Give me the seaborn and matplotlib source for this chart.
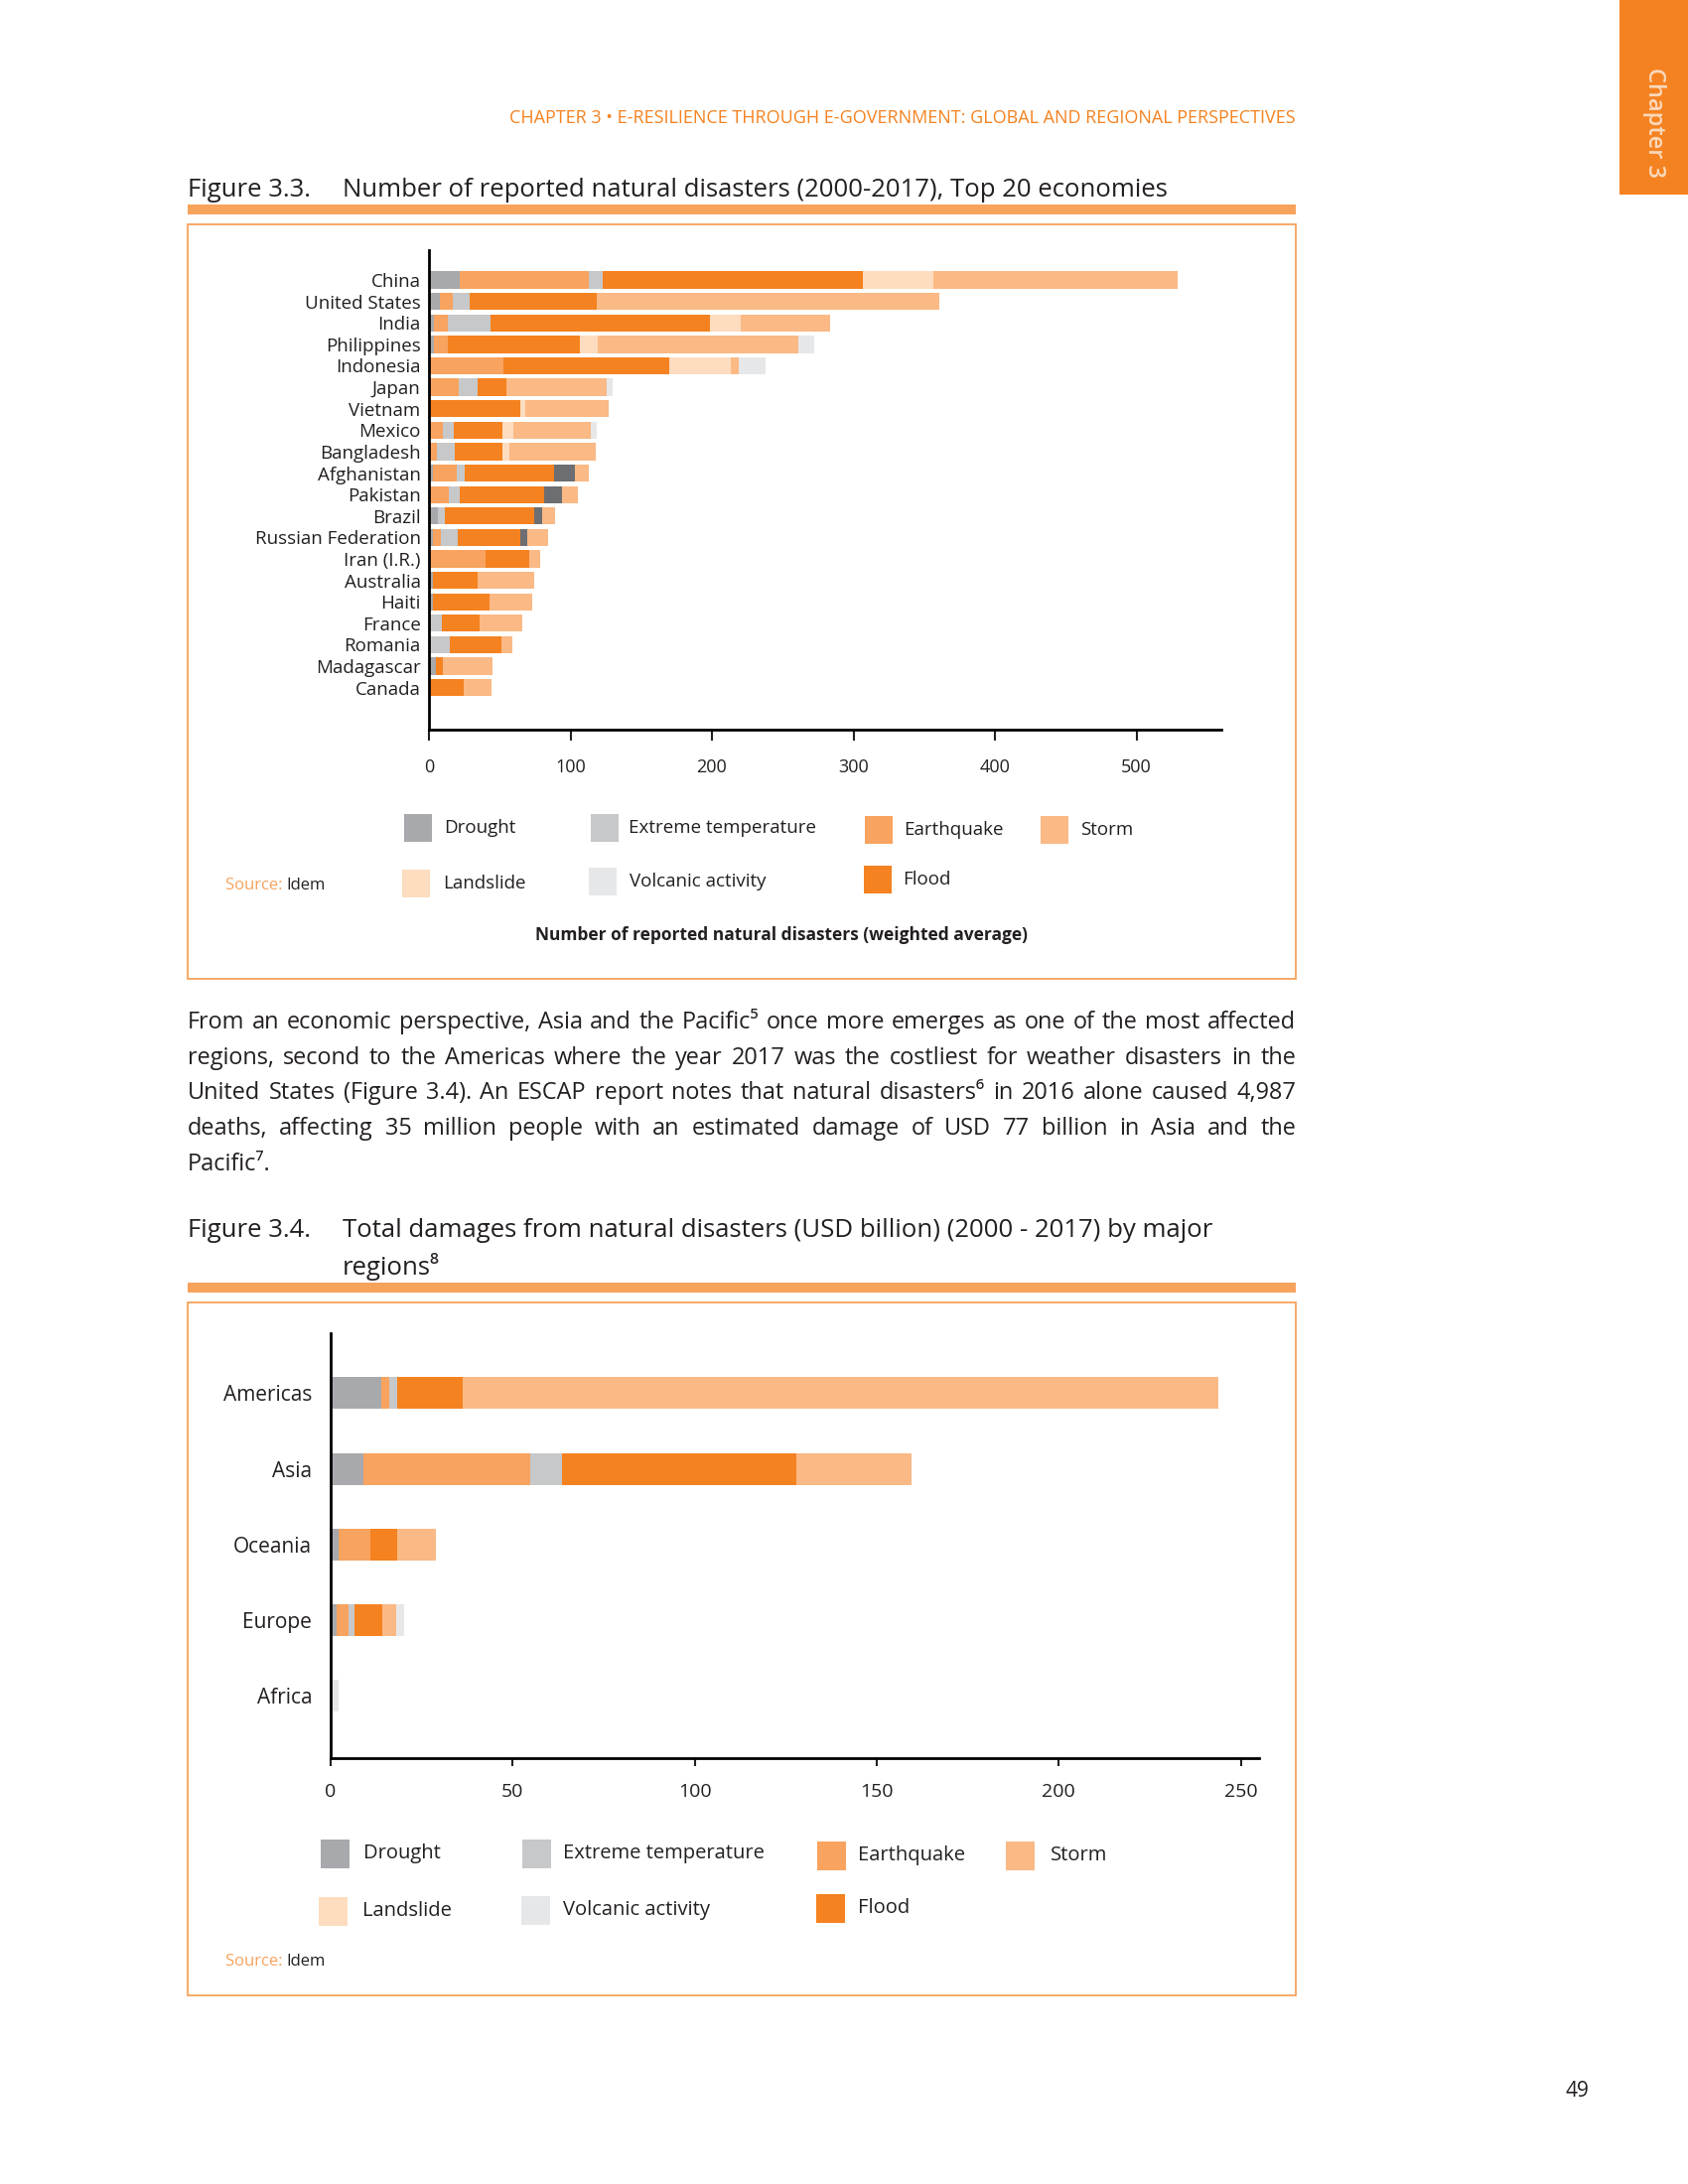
# -*- coding: utf-8 -*-
import matplotlib
matplotlib.use('Agg')
import matplotlib.pyplot as plt
import seaborn as sns
import pandas as pd
from matplotlib.patches import Rectangle

# ===========================================
# DATA
# ===========================================
SERIES = ['Drought', 'Earthquake', 'Extreme temperature', 'Flood',
          'Landslide', 'Other', 'Storm', 'Volcanic activity']

COUNTRIES = ['China', 'United States', 'India', 'Philippines', 'Indonesia',
             'Japan', 'Vietnam', 'Mexico', 'Bangladesh', 'Afghanistan',
             'Pakistan', 'Brazil', 'Russian Federation', 'Iran (I.R.)',
             'Australia', 'Haiti', 'France', 'Romania', 'Madagascar', 'Canada']
DROUGHT = [21.9, 7.9, 3.5, 3.5, 0, 0, 0, 0, 0, 2.6,
           0, 6.6, 2.6, 0, 2.5, 2.5, 0, 0, 4.8, 0]
EARTHQUAKE = [91.2, 8.8, 9.6, 9.6, 52.6, 21.0, 0, 10.1, 5.3, 16.7,
              14.0, 0, 6.1, 39.9, 0, 0, 0, 0, 0, 0]
EXTREME_TEMP = [9.6, 12.3, 30.7, 0, 0, 13.6, 0, 7.5, 12.7, 5.7,
                7.9, 4.4, 11.8, 0, 0, 0, 9.2, 14.9, 0, 0]
FLOOD = [184.2, 89.5, 154.8, 93.8, 117.5, 20.2, 64.5, 34.6, 33.8, 63.1,
         59.6, 63.1, 44.3, 30.7, 32.2, 40.5, 26.7, 36.0, 5.3, 24.6]
LANDSLIDE = [49.6, 0, 21.5, 12.7, 43.0, 0, 3.9, 7.5, 4.8, 0,
             0, 0, 0, 0, 0, 0, 0, 0, 0, 0]
OTHER = [0, 0, 0, 0, 0, 0, 0, 0, 0, 15.3,
         12.3, 6.1, 4.4, 0, 0, 0, 0, 0, 0, 0]
STORM = [172.8, 242.0, 63.6, 141.2, 6.1, 71.0, 58.3, 54.8, 61.4, 9.6,
         11.4, 9.2, 15.3, 7.9, 39.9, 29.8, 29.8, 8.3, 34.6, 19.3]
VOLCANIC = [0, 0, 0, 11.8, 18.9, 3.9, 0, 3.9, 0, 0,
            0, 0, 0, 0, 0, 0, 0, 0, 0, 0]

REGIONS = ['Americas', 'Asia', 'Oceania', 'Europe', 'Africa']
R_DROUGHT = [14.0, 9.0, 2.1, 1.7, 0]
R_EARTHQUAKE = [2.2, 45.8, 8.7, 3.1, 0]
R_EXTREME_TEMP = [2.1, 8.8, 0, 1.7, 0]
R_FLOOD = [18.0, 64.4, 7.4, 7.6, 0]
R_LANDSLIDE = [0, 0, 0, 0, 0]
R_OTHER = [0, 0, 0, 0, 0]
R_STORM = [207.6, 31.5, 10.6, 4.0, 0]
R_VOLCANIC = [0, 0, 0, 2.2, 2.2]

BODY_LINES = [
    'From an economic perspective, Asia and the Pacific\u2075 once more emerges as one of the most affected',
    'regions, second to the Americas where the year 2017 was the costliest for weather disasters in the',
    'United States (Figure 3.4). An ESCAP report notes that natural disasters\u2076 in 2016 alone caused 4,987',
    'deaths, affecting 35 million people with an estimated damage of USD 77 billion in Asia and the',
    'Pacific\u2077.',
]

# ===========================================
# STYLE
# ===========================================
COLORS = {
    'Drought': '#a7a9ac',
    'Earthquake': '#f8a35f',
    'Extreme temperature': '#c7c8ca',
    'Flood': '#f58220',
    'Landslide': '#fddcbf',
    'Other': '#6d6e71',
    'Storm': '#fab985',
    'Volcanic activity': '#e6e7e8',
}
ORANGE = '#f58220'
ACCENT = '#f7a35c'
INK = '#231f20'
W, H = 1700, 2200

sns.set_theme(style='white')
plt.rcParams['font.family'] = ['Open Sans', 'DejaVu Sans']
plt.rcParams['text.color'] = INK


def fx(x):
    return x / W


def fy(y):
    return 1 - y / H


def stacked_bars(ax, cats, table, height):
    """Stacked horizontal bars drawn as overlapping cumulative seaborn bars"""
    df = pd.DataFrame(table, index=cats)
    cum = df[SERIES].cumsum(axis=1)
    for s in reversed(SERIES):
        sns.barplot(x=cum[s].values, y=cats, order=cats, orient='h',
                    color=COLORS[s], saturation=1, width=height,
                    linewidth=0, ax=ax)
    ax.set_xlabel('')
    ax.set_ylabel('')


def legend_block(fig, items, swatch):
    for name, x_sw, y_c, x_txt, size in items:
        fig.add_artist(Rectangle((fx(x_sw), fy(y_c + swatch / 2)),
                                 swatch / W, swatch / H,
                                 transform=fig.transFigure,
                                 color=COLORS[name], lw=0))
        fig.text(fx(x_txt), fy(y_c), name, fontsize=size,
                 va='center', ha='left', color=INK)


def text_width(fig, text, size):
    t = fig.text(0, 0, text, fontsize=size)
    w = t.get_window_extent(fig.canvas.get_renderer()).width
    t.remove()
    return w


def justified(fig, text, x0, x1, y, size):
    renderer = fig.canvas.get_renderer()
    words = text.split(' ')
    arts = [fig.text(0, fy(y), w, ha='left', va='center', fontsize=size)
            for w in words]
    widths = [a.get_window_extent(renderer).width for a in arts]
    gap = (x1 - x0 - sum(widths)) / max(len(words) - 1, 1)
    x = x0
    for a, w in zip(arts, widths):
        a.set_x(fx(x))
        x += w + gap


def frame(fig, top, bottom):
    fig.add_artist(Rectangle((fx(189), fy(top)), (1305 - 189) / W, 10 / H,
                             transform=fig.transFigure, color=ACCENT, lw=0))
    fig.add_artist(Rectangle((fx(189), fy(bottom)), (1305 - 189) / W,
                             (bottom - top - 10) / H, transform=fig.transFigure,
                             fill=False, edgecolor=ACCENT, lw=1.3))


def source(fig, y):
    t = fig.text(fx(227), fy(y), 'Source: ', fontsize=12, color=ACCENT,
                 va='center', ha='left')
    w = t.get_window_extent(fig.canvas.get_renderer()).width
    fig.text(fx(227 + w), fy(y), 'Idem', fontsize=12, color=INK,
             va='center', ha='left')


# ===========================================
# FIGURE
# ===========================================
fig = plt.figure(figsize=(17, 22), dpi=100)

# page furniture
fig.add_artist(Rectangle((fx(1631), fy(196)), 69 / W, 196 / H,
                         transform=fig.transFigure, color=ORANGE, lw=0))
fig.text(fx(1666), fy(123), 'Chapter 3', rotation=-90, color='#fbd9bd',
         fontsize=17, fontweight='semibold', ha='center', va='center')
fig.text(fx(1305), fy(119),
         'CHAPTER 3 \u2022 E-RESILIENCE THROUGH E-GOVERNMENT: GLOBAL AND REGIONAL PERSPECTIVES',
         color=ORANGE, fontsize=13, ha='right', va='center')
fig.text(fx(1588), fy(2107), '49', fontsize=15, ha='center', va='center',
         color=INK)

# ---------- Figure 3.3 ----------
fig.text(fx(189), fy(191), 'Figure 3.3.', fontsize=18.5, va='center')
fig.text(fx(345), fy(191),
         'Number of reported natural disasters (2000-2017), Top 20 economies',
         fontsize=18.5, va='center')
frame(fig, 216, 986)

ax1 = fig.add_axes([fx(432), fy(735), (1230 - 432) / W, (735 - 252) / H])
stacked_bars(ax1, COUNTRIES, {
    'Drought': DROUGHT, 'Earthquake': EARTHQUAKE,
    'Extreme temperature': EXTREME_TEMP, 'Flood': FLOOD,
    'Landslide': LANDSLIDE, 'Other': OTHER, 'Storm': STORM,
    'Volcanic activity': VOLCANIC}, 0.8)
ax1.set_xlim(0, 560)
ax1.set_ylim(20.96, -1.39)
ax1.set_xticks([0, 100, 200, 300, 400, 500])
ax1.tick_params(axis='x', direction='out', length=8, width=1.5,
                labelsize=13, pad=13, colors=INK, bottom=True)
ax1.tick_params(axis='y', length=0, labelsize=13.5, pad=6, colors=INK)
sns.despine(ax=ax1, top=True, right=True)
for side in ['left', 'bottom']:
    ax1.spines[side].set_color('black')
    ax1.spines[side].set_linewidth(2)

legend_block(fig, [
    ('Drought', 407, 834, 447, 13.5),
    ('Extreme temperature', 595, 834, 633, 13.5),
    ('Earthquake', 871, 836, 910, 13.5),
    ('Storm', 1048, 836, 1088, 13.5),
    ('Landslide', 405, 890, 446, 13.5),
    ('Volcanic activity', 593, 888, 634, 13.5),
    ('Flood', 870, 886, 909, 13.5),
], 28)
source(fig, 892)
fig.text(fx(787), fy(942), 'Number of reported natural disasters (weighted average)',
         fontsize=12.5, fontweight='bold', ha='center', va='center')

# ---------- body text (justified) ----------
longest = max(text_width(fig, line, 10) for line in BODY_LINES)
body_size = 10 * (1305 - 189) / longest * 0.985
ys = [1030, 1066, 1101, 1137, 1173]
for i, (line, y) in enumerate(zip(BODY_LINES, ys)):
    if i < len(BODY_LINES) - 1:
        justified(fig, line, 189, 1305, y, body_size)
    else:
        fig.text(fx(189), fy(y), line, fontsize=body_size, ha='left', va='center')

# ---------- Figure 3.4 ----------
fig.text(fx(189), fy(1240), 'Figure 3.4.', fontsize=18.5, va='center')
fig.text(fx(345), fy(1240),
         'Total damages from natural disasters (USD billion) (2000 - 2017) by major',
         fontsize=18.5, va='center')
fig.text(fx(345), fy(1276), 'regions\u2078', fontsize=18.5, va='center')
frame(fig, 1302, 2010)

ax2 = fig.add_axes([fx(333), fy(1771), (1268 - 333) / W, (1771 - 1343) / H])
stacked_bars(ax2, REGIONS, {
    'Drought': R_DROUGHT, 'Earthquake': R_EARTHQUAKE,
    'Extreme temperature': R_EXTREME_TEMP, 'Flood': R_FLOOD,
    'Landslide': R_LANDSLIDE, 'Other': R_OTHER, 'Storm': R_STORM,
    'Volcanic activity': R_VOLCANIC}, 0.42)
ax2.set_xlim(0, 255)
ax2.set_ylim(4.82, -0.79)
ax2.set_xticks([0, 50, 100, 150, 200, 250])
ax2.tick_params(axis='x', direction='out', length=6, width=1.5,
                labelsize=14, pad=12, colors=INK, bottom=True)
ax2.tick_params(axis='y', length=0, labelsize=15, pad=13.5, colors=INK)
sns.despine(ax=ax2, top=True, right=True)
for side in ['left', 'bottom']:
    ax2.spines[side].set_color('black')
    ax2.spines[side].set_linewidth(2)

legend_block(fig, [
    ('Drought', 323, 1867, 366, 14.5),
    ('Extreme temperature', 526, 1867, 567, 14.5),
    ('Earthquake', 823, 1869, 864, 14.5),
    ('Storm', 1013, 1869, 1058, 14.5),
    ('Landslide', 321, 1925, 365, 14.5),
    ('Volcanic activity', 525, 1924, 567, 14.5),
    ('Flood', 822, 1922, 864, 14.5),
], 29)
source(fig, 1976)

fig.savefig('out.png', dpi=100, facecolor='white')
